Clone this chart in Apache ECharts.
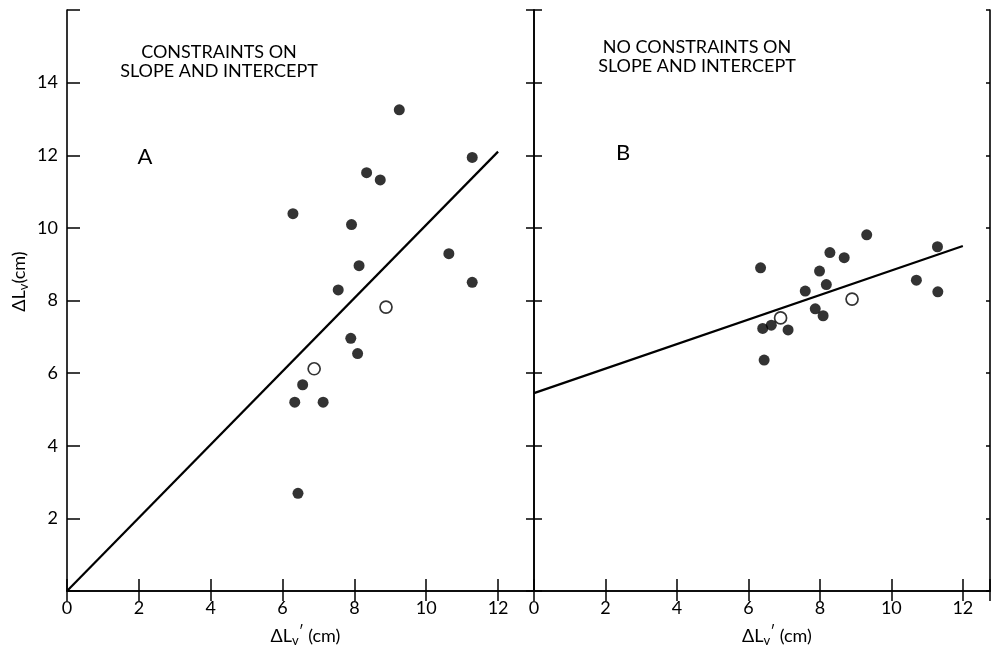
<!DOCTYPE html>
<html>
<head>
<meta charset="utf-8">
<script src="https://cdn.jsdelivr.net/npm/echarts@6/dist/echarts.min.js"></script>
<style>
html,body{margin:0;padding:0;background:#fff;}
#chart{width:993px;height:652px;}
</style>
</head>
<body>
<div id="chart"></div>
<script>
// ---- Data ----
// Panel A: constraints on slope and intercept
const aFilledX = [6.29, 9.25, 8.34, 8.72, 11.28, 7.92, 8.13, 7.55, 10.63, 11.28, 7.90, 8.09, 6.56, 6.34, 7.13, 6.43];
const aFilledY = [10.39, 13.25, 11.52, 11.32, 11.94, 10.09, 8.96, 8.29, 9.29, 8.50, 6.96, 6.54, 5.68, 5.20, 5.20, 2.69];
const aOpenX = [8.88, 6.88];
const aOpenY = [7.82, 6.12];
const aLineX = [0, 12];
const aLineY = [0, 12.1];
// Panel B: no constraints on slope and intercept
const bFilledX = [6.34, 9.31, 8.28, 8.68, 11.29, 7.99, 8.18, 10.70, 11.30, 7.59, 7.87, 8.09, 6.64, 6.40, 7.11, 6.44];
const bFilledY = [8.90, 9.81, 9.32, 9.18, 9.48, 8.81, 8.44, 8.56, 8.24, 8.26, 7.77, 7.58, 7.32, 7.23, 7.19, 6.36];
const bOpenX = [8.90, 6.90];
const bOpenY = [8.04, 7.52];
const bLineX = [0, 12];
const bLineY = [5.45, 9.5];
// Axes
const xTickLabels = ['0', '2', '4', '6', '8', '10', '12'];
const yTickLabels = ['2', '4', '6', '8', '10', '12', '14'];
const titleA = 'CONSTRAINTS ON\nSLOPE AND INTERCEPT';
const titleB = 'NO CONSTRAINTS ON\nSLOPE AND INTERCEPT';

const zip = (xs, ys) => xs.map((x, i) => [x, ys[i]]);
const FONT = 'Lato, "DejaVu Sans", sans-serif';
const BLACK = '#000';

const xFmt = v => xTickLabels.indexOf(String(v)) >= 0 ? String(v) : '';
const yFmt = v => yTickLabels.indexOf(String(v)) >= 0 ? String(v) : '';

const lineStyleAxis = { color: BLACK, width: 1.6 };
function xAxisBottom(gi, max, padLeft) {
  return {
    gridIndex: gi, type: 'value', position: 'bottom', min: 0, max: max, interval: 2,
    axisLine: { show: true, lineStyle: lineStyleAxis },
    axisTick: { show: true, inside: true, length: 12, lineStyle: { color: BLACK, width: 1.5 } },
    axisLabel: { show: true, formatter: xFmt, margin: 8, color: BLACK, fontSize: 18, fontFamily: FONT },
    splitLine: { show: false },
    name: '{a|ΔL}{s|v}{p|\u2032}{a| (cm)}',
    nameLocation: 'middle', nameGap: 34,
    nameTextStyle: {
      padding: [0, 0, 0, padLeft],
      rich: {
        a: { fontSize: 18, fontFamily: FONT, color: BLACK, lineHeight: 22 },
        s: { fontSize: 13, fontFamily: FONT, color: BLACK, lineHeight: 10, verticalAlign: 'bottom' },
        p: { fontSize: 15, fontFamily: FONT, color: BLACK, lineHeight: 10, verticalAlign: 'top' }
      }
    }
  };
}
function xAxisTop(gi, max) {
  return {
    gridIndex: gi, type: 'value', position: 'top', min: 0, max: max, interval: 2,
    axisLine: { show: true, lineStyle: lineStyleAxis },
    axisTick: { show: true, inside: true, length: 10, lineStyle: { color: BLACK, width: 1.5 } },
    axisLabel: { show: false }, splitLine: { show: false }
  };
}
function yAxis(gi, pos, showLabel, tickLen, withName) {
  const ax = {
    gridIndex: gi, type: 'value', position: pos, min: 0, max: 16, interval: 2,
    axisLine: { show: true, onZero: false, lineStyle: lineStyleAxis },
    axisTick: { show: true, inside: true, length: tickLen, lineStyle: { color: BLACK, width: 1.5 } },
    axisLabel: { show: showLabel, formatter: yFmt, margin: 9, color: BLACK, fontSize: 18, fontFamily: FONT },
    splitLine: { show: false }
  };
  if (withName) {
    ax.name = '{a|ΔL}{s|v}{a|(cm)}';
    ax.nameLocation = 'middle';
    ax.nameGap = 37;
    ax.nameTextStyle = {
      padding: [0, 0, 0, 38],
      rich: {
        a: { fontSize: 18, fontFamily: FONT, color: BLACK, lineHeight: 22 },
        s: { fontSize: 13, fontFamily: FONT, color: BLACK, lineHeight: 10, verticalAlign: 'bottom' }
      }
    };
  }
  return ax;
}

const filledStyle = { color: BLACK };
const openStyle = { color: '#fff', borderColor: BLACK, borderWidth: 1.7 };

const option = {
  animation: false,
  backgroundColor: '#fff',
  title: [
    { text: titleA, left: 214, top: 38, textAlign: 'center',
      textStyle: { fontSize: 18, fontWeight: 'normal', fontFamily: FONT, color: BLACK, lineHeight: 19, align: 'center' } },
    { text: titleB, left: 692, top: 33, textAlign: 'center',
      textStyle: { fontSize: 18, fontWeight: 'normal', fontFamily: FONT, color: BLACK, lineHeight: 19, align: 'center' } },
    { text: 'A', left: 140, top: 141, textAlign: 'center',
      textStyle: { fontSize: 22, fontWeight: 'normal', fontFamily: FONT, color: BLACK } },
    { text: 'B', left: 618, top: 137, textAlign: 'center',
      textStyle: { fontSize: 22, fontWeight: 'normal', fontFamily: FONT, color: BLACK } }
  ],
  grid: [
    { left: 67, top: 10, width: 467, height: 581 },
    { left: 534, top: 10, width: 458, height: 581 }
  ],
  xAxis: [
    xAxisBottom(0, 13, 10), xAxisTop(0, 13),
    xAxisBottom(1, 12.76, 30), xAxisTop(1, 12.76)
  ],
  yAxis: [
    yAxis(0, 'left', true, 13, true), yAxis(0, 'right', false, 8, false),
    yAxis(1, 'left', false, 8, false), yAxis(1, 'right', false, 4, false)
  ],
  series: [
    { type: 'line', xAxisIndex: 0, yAxisIndex: 0, data: zip(aLineX, aLineY), symbol: 'none',
      lineStyle: { color: BLACK, width: 2.2 }, z: 2 },
    { type: 'scatter', xAxisIndex: 0, yAxisIndex: 0, data: zip(aFilledX, aFilledY), symbol: 'circle', symbolSize: 11, itemStyle: filledStyle, z: 3 },
    { type: 'scatter', xAxisIndex: 0, yAxisIndex: 0, data: zip(aOpenX, aOpenY), symbol: 'circle', symbolSize: 12, itemStyle: openStyle, z: 3 },
    { type: 'line', xAxisIndex: 2, yAxisIndex: 2, data: zip(bLineX, bLineY), symbol: 'none',
      lineStyle: { color: BLACK, width: 2.2 }, z: 2 },
    { type: 'scatter', xAxisIndex: 2, yAxisIndex: 2, data: zip(bFilledX, bFilledY), symbol: 'circle', symbolSize: 11, itemStyle: filledStyle, z: 3 },
    { type: 'scatter', xAxisIndex: 2, yAxisIndex: 2, data: zip(bOpenX, bOpenY), symbol: 'circle', symbolSize: 12, itemStyle: openStyle, z: 3 }
  ]
};

const chart = echarts.init(document.getElementById('chart'), null, { renderer: 'canvas' });
chart.setOption(option);
</script>
</body>
</html>
